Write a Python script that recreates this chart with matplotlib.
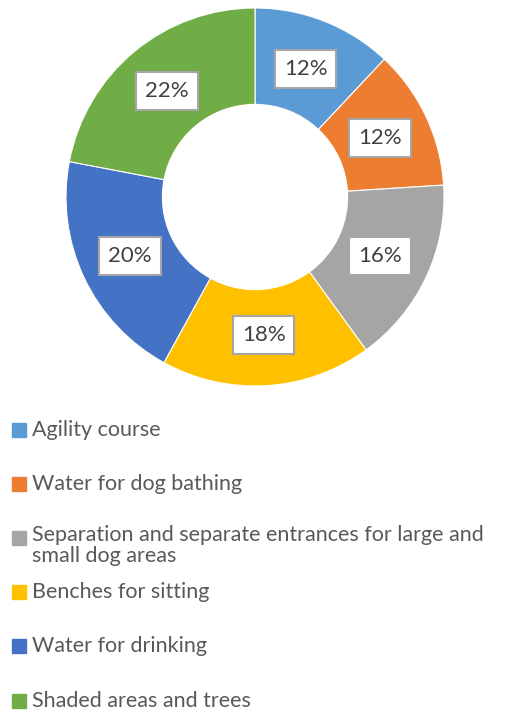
import numpy as np
import matplotlib.pyplot as plt
import matplotlib.patches as mpatches

plt.rcParams['font.family'] = ['Lato', 'DejaVu Sans']

labels = ['Agility course', 'Water for dog bathing',
          'Separation and separate entrances for large and\nsmall dog areas',
          'Benches for sitting', 'Water for drinking', 'Shaded areas and trees']
values = [12, 12, 16, 18, 20, 22]
colors = ['#5B9BD5', '#ED7D31', '#A5A5A5', '#FFC000', '#4472C4', '#70AD47']

fig = plt.figure(figsize=(5.09, 7.15), dpi=100)
ax = fig.add_axes([66 / 509, 1 - 386 / 715, 378 / 509, 378 / 715])

wedges, _ = ax.pie(values, colors=colors, startangle=90, counterclock=False,
                   radius=1.0, wedgeprops=dict(width=0.51, edgecolor='white', linewidth=0.8))
ax.set_aspect('equal')
ax.set_xlim(-1, 1)
ax.set_ylim(-1, 1)

total = sum(values)
cum = 0
for v in values:
    mid = 90 - (cum + v / 2) / total * 360
    cum += v
    r = 0.73
    x, y = r * np.cos(np.radians(mid)), r * np.sin(np.radians(mid))
    ax.text(x, y, f'{v}%', ha='center', va='center', fontsize=16, color='#404040',
            bbox=dict(boxstyle='square,pad=0.4', facecolor='white', edgecolor='#A6A6A6', linewidth=1.5))

# legend, laid out manually
ys = [430, 484, 538, 592, 646, 701]
for lab, col, yc in zip(labels, colors, ys):
    fig.patches.append(mpatches.Rectangle((12 / 509, 1 - (yc + 7) / 715), 14 / 509, 14 / 715,
                                          transform=fig.transFigure, color=col))
    if '\n' in lab:
        fig.text(32 / 509, 1 - (yc - 13) / 715, lab, ha='left', va='top',
                 fontsize=15.5, color='#595959', linespacing=1.05)
    else:
        fig.text(32 / 509, 1 - yc / 715, lab, ha='left', va='center',
                 fontsize=15.5, color='#595959')

fig.savefig('out.png', dpi=100)
